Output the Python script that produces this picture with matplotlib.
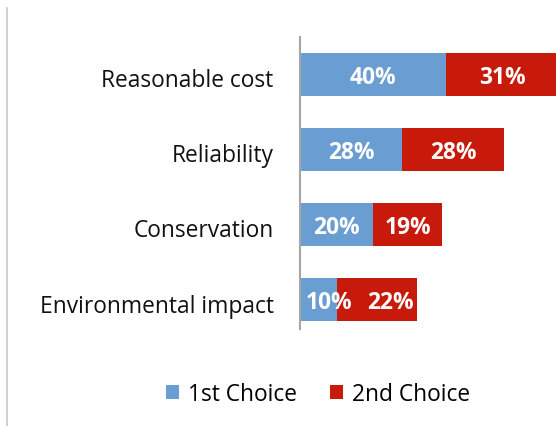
import matplotlib
matplotlib.use("Agg")
import matplotlib.pyplot as plt
from matplotlib.lines import Line2D
import matplotlib.transforms as mtransforms
import numpy as np

categories = ["Reasonable cost", "Reliability", "Conservation", "Environmental impact"]
first_choice = [40, 28, 20, 10]
second_choice = [31, 28, 19, 22]
series_names = ["1st Choice", "2nd Choice"]

blue = "#6a9dd1"
red = "#c81a0a"
FONT = "Open Sans"
FS = 16.4

fig = plt.figure(figsize=(5.56, 4.27), dpi=100)
ax = fig.add_axes([300/556, 1-330/427, 256/556, (330-38)/427])

y = np.arange(len(categories))
h = 43/75
b1 = ax.barh(y, first_choice, height=h, color=blue, label=series_names[0])
b2 = ax.barh(y, second_choice, left=first_choice, height=h, color=red, label=series_names[1])

ax.set_xlim(0, 256/3.65)
ax.set_ylim(3.39, -0.5)
ax.set_yticks(y)
ax.set_yticklabels(categories, fontsize=FS, family=FONT, color="#111111")
ax.tick_params(axis="y", length=0, pad=19)
shift = mtransforms.ScaledTranslation(0, -2/72, fig.dpi_scale_trans)
for lab in ax.get_yticklabels():
    lab.set_transform(lab.get_transform() + shift)
ax.set_xticks([])
for s in ["top", "right", "bottom"]:
    ax.spines[s].set_visible(False)
ax.spines["left"].set_color("#a6a6a6")
ax.spines["left"].set_linewidth(1.5)

# label offsets in points (last row labels shifted to avoid overlap)
off1 = [0, 0, 0, 7.5]
off2 = [0, 0, 0, 10]
for i in range(len(categories)):
    ax.annotate(f"{first_choice[i]}%", (first_choice[i]/2, y[i]), xytext=(off1[i], -1.5),
                textcoords="offset points", ha="center", va="center",
                color="white", fontsize=FS, fontweight="bold", family=FONT)
    ax.annotate(f"{second_choice[i]}%", (first_choice[i] + second_choice[i]/2, y[i]),
                xytext=(off2[i], -1.5), textcoords="offset points", ha="center", va="center",
                color="white", fontsize=FS, fontweight="bold", family=FONT,
                annotation_clip=False)

leg = fig.legend(handles=[b1, b2], loc="center", bbox_to_anchor=(318/556, 1-395/427),
                 ncol=2, frameon=False, prop={"family": FONT, "size": FS},
                 handlelength=0.57, handleheight=0.57, handletextpad=0.39,
                 columnspacing=1.44, borderpad=0, borderaxespad=0)

fig.add_artist(Line2D([7/556, 7/556], [0, 1-9/427], transform=fig.transFigure,
                      color="#c8c8c8", linewidth=1.2))

fig.savefig("out.png", dpi=100)
